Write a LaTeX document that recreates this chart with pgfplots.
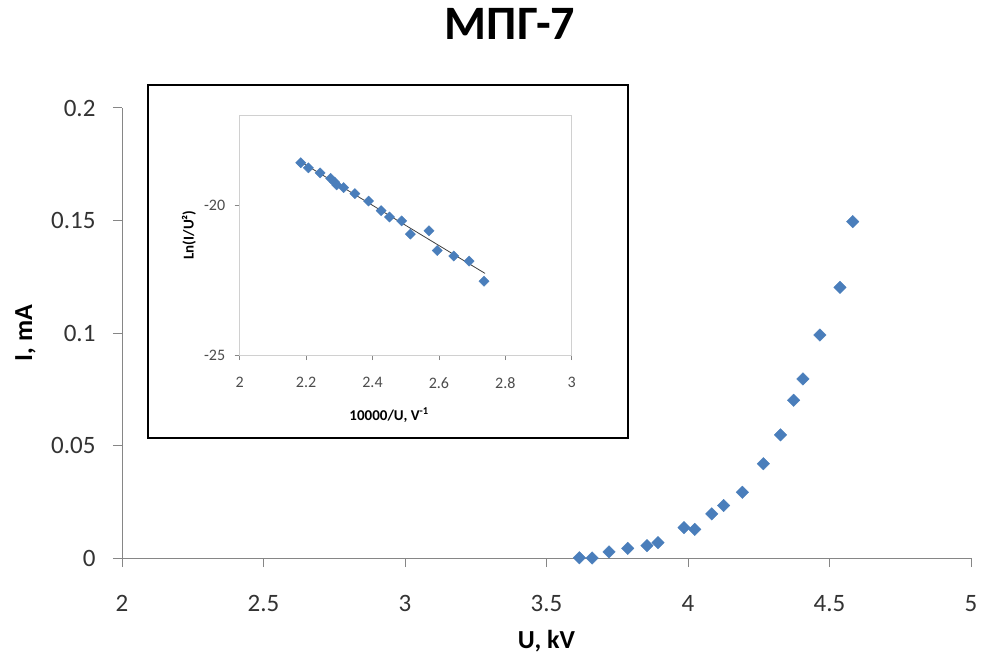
\documentclass[border=0pt]{standalone}
\usepackage{fontspec}
\setmainfont{Carlito}
\usepackage{pgfplots}
\pgfplotsset{compat=1.18}
\definecolor{mblue}{HTML}{4A7EBB}
\definecolor{axgray}{HTML}{868686}
\definecolor{lgray}{HTML}{D0D0D0}
\begin{document}
\begin{tikzpicture}
\path[use as bounding box] (0,0) rectangle (986pt,657pt);
\begin{axis}[
  at={(122pt,99pt)}, anchor=south west,
  scale only axis, width=849pt, height=450pt,
  xmin=2, xmax=5, ymin=0, ymax=0.2,
  axis x line=bottom, axis y line=left,
  axis line style={draw=axgray, line width=1pt, -},
  xtick={2,2.5,3,3.5,4,4.5,5},
  ytick={0,0.05,0.1,0.15,0.2},
  tick align=outside, major tick length=9pt,
  tick style={draw=axgray, line width=1pt},
  /pgf/number format/assume math mode=true,
  ticklabel style={font=\fontsize{25}{28}\selectfont, text=black!80},
  yticklabel style={/pgf/number format/fixed, /pgf/number format/precision=2, xshift=-14pt},
  xticklabel style={yshift=-25pt},
  xlabel={U, kV}, ylabel={I, mA},
  label style={font=\bfseries\fontsize{26}{28}\selectfont},
  xlabel style={at={(axis description cs:0.5,-0.2)}, anchor=base},
  ylabel style={at={(axis description cs:-0.106,0.5)}, anchor=base},
  title={МПГ-7},
  title style={font=\bfseries\fontsize{48}{50}\selectfont, at={(axis description cs:0.457,1.138)}, anchor=base},
  clip=false,
]
\addplot[only marks, mark=square*, mark size=4.4pt, mark options={rotate=45, fill=mblue, draw=mblue}] coordinates {
(4.582,0.1495) (4.537,0.1203) (4.466,0.0991) (4.406,0.0796) (4.373,0.0701)
(4.327,0.0547) (4.266,0.0419) (4.192,0.0292) (4.126,0.0233) (4.084,0.0196)
(4.024,0.0127) (3.986,0.0135) (3.894,0.0068) (3.855,0.0055) (3.787,0.0043)
(3.721,0.0027) (3.661,0.0000) (3.616,0.0001)
};
\end{axis}
\draw[black, line width=2pt, fill=white] (148pt,219pt) rectangle (628pt,572pt);
\begin{axis}[
  at={(239.7pt,302pt)}, anchor=south west,
  scale only axis, width=332pt, height=240pt,
  xmin=2, xmax=3, ymin=-25, ymax=-17,
  axis line style={draw=lgray, line width=1pt},
  xtick={2,2.2,2.4,2.6,2.8,3},
  ytick={-25,-20},
  xtick pos=bottom, ytick pos=left,
  tick align=outside, major tick length=5pt,
  tick style={draw=axgray, line width=0.8pt},
  /pgf/number format/assume math mode=true,
  ticklabel style={font=\fontsize{16}{18}\selectfont, text=black!70},
  yticklabel style={/pgf/number format/fixed, xshift=-6pt},
  xticklabel style={/pgf/number format/fixed, /pgf/number format/precision=1, yshift=-14pt},
  xlabel={10000/U, V\textsuperscript{-1}}, ylabel={Ln(I/U²)},
  label style={font=\bfseries\fontsize{15}{17}\selectfont},
  xlabel style={at={(axis description cs:0.45,-0.25)}, anchor=center},
  ylabel style={at={(axis description cs:-0.153,0.5)}, anchor=center},
  clip=false,
]
\addplot[only marks, mark=square*, mark size=3.6pt, mark options={rotate=45, fill=mblue, draw=mblue}] coordinates {
(2.184,-18.59) (2.207,-18.76) (2.242,-18.93) (2.274,-19.11) (2.286,-19.24)
(2.292,-19.33) (2.313,-19.42) (2.347,-19.62) (2.388,-19.87) (2.426,-20.19)
(2.451,-20.40) (2.488,-20.53) (2.514,-20.97) (2.570,-20.86) (2.595,-21.52)
(2.645,-21.70) (2.691,-21.87) (2.736,-22.54)
};
\addplot[draw=black!75, line width=0.8pt] coordinates {(2.185,-18.57) (2.739,-22.28)};
\end{axis}
\end{tikzpicture}
\end{document}
